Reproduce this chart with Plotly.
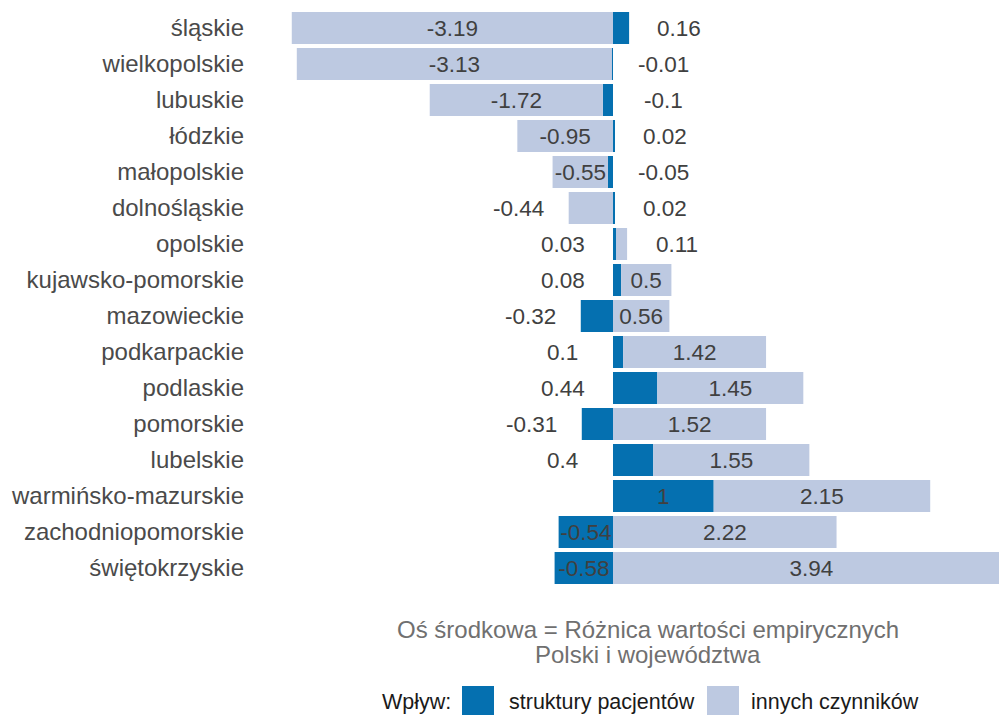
import plotly.graph_objects as go

# ---------------- data ----------------
regions = ["śląskie", "wielkopolskie", "lubuskie", "łódzkie", "małopolskie",
           "dolnośląskie", "opolskie", "kujawsko-pomorskie", "mazowieckie",
           "podkarpackie", "podlaskie", "pomorskie", "lubelskie",
           "warmińsko-mazurskie", "zachodniopomorskie", "świętokrzyskie"]
struktura = [0.16, -0.01, -0.1, 0.02, -0.05, 0.02, 0.03, 0.08, -0.32, 0.1,
             0.44, -0.31, 0.4, 1, -0.54, -0.58]
inne = [-3.19, -3.13, -1.72, -0.95, -0.55, -0.44, 0.11, 0.5, 0.56, 1.42,
        1.45, 1.52, 1.55, 2.15, 2.22, 3.94]
series_names = ["struktury pacjentów", "innych czynników"]
legend_title = "Wpływ:"
caption_lines = ["Oś środkowa = Różnica wartości empirycznych", "Polski i województwa"]

# ---------------- styles / layout ----------------
C_DARK = "#0570b0"
C_LIGHT = "#bdc9e1"
FONT = "Liberation Sans, Arial, sans-serif"
W, H = 999, 715
L, R, T, B = 255, 0, 10, 129
PX = 100.7          # pixels per unit on x
ZERO = 613          # pixel of x = 0
INSIDE_MIN = 0.5    # |value| needed to print the label inside the bar
OUT_OFF = 0.5       # offset (units) of outside labels from stack end


def fmt(v):
    return f"{v:g}"


def px_x(X):
    return (X - L) / (W - L - R)


def px_y(Y):
    return (H - B - Y) / (H - T - B)


xrange = [(L - ZERO) / PX, (W - R - ZERO) / PX]

fig = go.Figure()
for vals, name, col in [(struktura, series_names[0], C_DARK),
                        (inne, series_names[1], C_LIGHT)]:
    fig.add_trace(go.Bar(
        y=regions, x=vals, orientation="h", name=name,
        marker=dict(color=col, line=dict(width=0)),
        text=[fmt(v) if abs(v) >= INSIDE_MIN else "" for v in vals],
        textposition="inside", insidetextanchor="middle", textangle=0,
        constraintext="none",
        insidetextfont=dict(family=FONT, size=22.5, color="#404040"),
        showlegend=False, hoverinfo="x+y+name",
    ))

# outside labels
annotations = []
for reg, s, o in zip(regions, struktura, inne):
    pos_end = sum(v for v in (s, o) if v > 0)
    neg_end = sum(v for v in (s, o) if v < 0)
    inne_side = 1 if o >= 0 else -1
    items = []
    if abs(o) < INSIDE_MIN:
        items.append((o, inne_side))
    if abs(s) < INSIDE_MIN:
        items.append((s, -inne_side))
    for v, side in items:
        x = pos_end + OUT_OFF if side > 0 else neg_end - OUT_OFF
        annotations.append(dict(
            x=x, y=reg, xref="x", yref="y", text=fmt(v), showarrow=False,
            xanchor="center", yanchor="middle",
            font=dict(family=FONT, size=22.5, color="#404040")))

# caption
for text, yy in zip(caption_lines, [629, 654]):
    annotations.append(dict(
        x=px_x(648), y=px_y(yy), xref="paper", yref="paper", text=text,
        showarrow=False, xanchor="center", yanchor="middle",
        font=dict(family=FONT, size=24, color="#707070")))

# custom legend
LEG_Y = 702
annotations.append(dict(
    x=px_x(380), y=px_y(LEG_Y), xref="paper", yref="paper", text=legend_title,
    showarrow=False, xanchor="left", yanchor="middle",
    font=dict(family=FONT, size=21.5, color="#1a1a1a")))
shapes = []
for name, col, sx, tx in [(series_names[0], C_DARK, 462, 507),
                          (series_names[1], C_LIGHT, 707, 749)]:
    shapes.append(dict(type="rect", xref="paper", yref="paper",
                       x0=px_x(sx), x1=px_x(sx + 32),
                       y0=px_y(LEG_Y + 16), y1=px_y(LEG_Y - 16),
                       fillcolor=col, line=dict(width=0)))
    annotations.append(dict(
        x=px_x(tx), y=px_y(LEG_Y), xref="paper", yref="paper", text=name,
        showarrow=False, xanchor="left", yanchor="middle",
        font=dict(family=FONT, size=21.5, color="#1a1a1a")))

fig.update_layout(
    width=W, height=H,
    margin=dict(l=L, r=R, t=T, b=B, pad=0),
    barmode="relative", bargap=0.11,
    plot_bgcolor="white", paper_bgcolor="white",
    font=dict(family=FONT),
    annotations=annotations, shapes=shapes,
    showlegend=False,
    xaxis=dict(range=xrange, showticklabels=False, showgrid=False,
               zeroline=False, showline=False, ticks=""),
    yaxis=dict(categoryorder="array", categoryarray=regions,
               range=[len(regions) - 0.5, -0.5],
               showgrid=False, zeroline=False, showline=False,
               ticks="", ticklen=0, ticklabelstandoff=10,
               tickfont=dict(family=FONT, size=24, color="#4a4a4a")),
)

fig.write_html(
    "out.html",
    config={"displayModeBar": False},
    post_script=("document.body.style.margin='0';"
                 "document.body.style.overflow='hidden';"),
)
